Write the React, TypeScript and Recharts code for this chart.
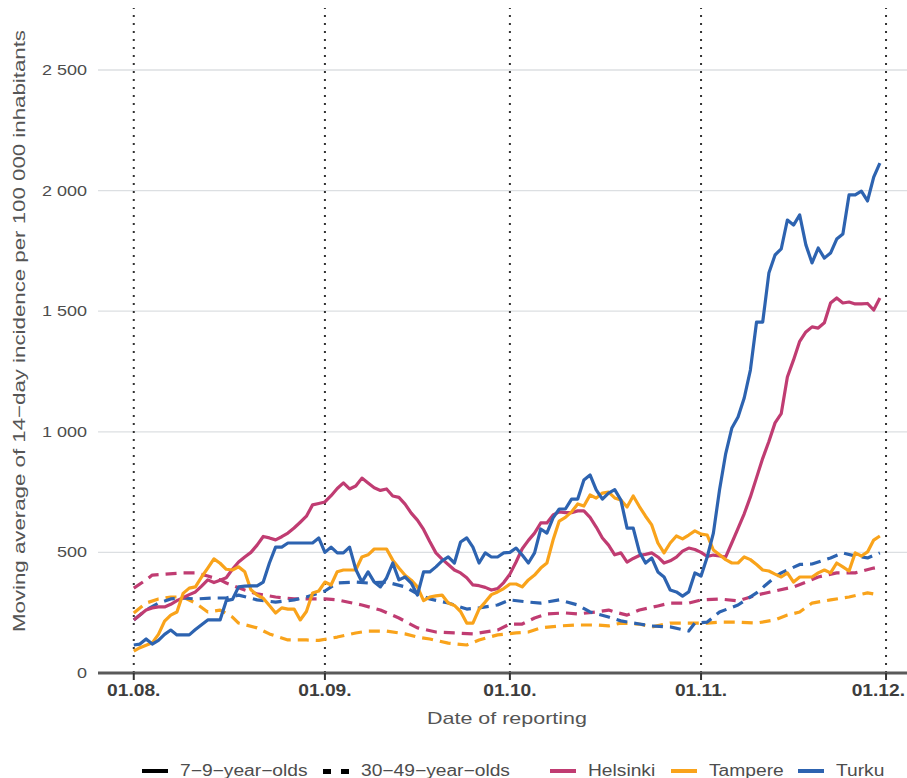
import { LineChart, Line, XAxis, YAxis, ReferenceLine, Legend, Label } from 'recharts'

const font = '"Liberation Sans", Arial, sans-serif'
// the source font runs about 1.2x wider than Arial at the same height
const stretch = 1.2

const monthTicks = [0, 31, 61, 92, 122]
const monthLabels = ['01.08.', '01.09.', '01.10.', '01.11.', '01.12.']
const yTicks = [0, 500, 1000, 1500, 2000, 2500]
const gridLines = [500, 1000, 1500, 2000, 2500]

// 7-9-year-olds, one value per day starting 1 Aug
const helsinkiKids = [
  220, 240, 261, 270, 274, 274, 285, 300, 312, 325, 336, 360, 386, 375, 385, 395, 430, 460, 481, 500,
  530, 566, 560, 552, 565, 580, 601, 625, 650, 697, 703, 709, 735, 765, 788, 763, 775, 808, 788, 768,
  757, 763, 734, 728, 700, 663, 634, 595, 545, 498, 472, 450, 427, 415, 395, 365, 362, 355, 344, 350,
  375, 410, 460, 515, 550, 580, 622, 622, 655, 668, 665, 665, 672, 672, 645, 605, 560, 530, 490, 498,
  460, 475, 487, 492, 498, 481, 456, 465, 480, 505, 518, 512, 500, 483, 489, 485, 481, 540, 600, 660,
  730, 810, 890, 960, 1037, 1075, 1227, 1298, 1375, 1414, 1435, 1430, 1452, 1534, 1555, 1534, 1538, 1530, 1530, 1532,
  1505, 1555,
]
const tampereKids = [
  91, 105, 115, 125, 160, 215, 240, 253, 330, 352, 357, 398, 435, 473, 455, 430, 427, 440, 420, 345,
  323, 310, 280, 249, 270, 265, 265, 220, 255, 332, 340, 377, 365, 420, 427, 427, 427, 481, 490, 514,
  514, 514, 468, 435, 405, 385, 357, 300, 315, 320, 323, 290, 280, 255, 207, 207, 265, 294, 325, 336,
  350, 369, 369, 357, 386, 406, 435, 456, 551, 630, 645, 668, 701, 692, 738, 725, 746, 750, 726, 717,
  688, 734, 690, 650, 614, 539, 498, 539, 568, 556, 572, 589, 576, 572, 510, 490, 470, 456, 456, 481,
  470, 450, 427, 423, 410, 398, 415, 377, 398, 398, 398, 415, 427, 415, 456, 440, 423, 498, 485, 502,
  551, 568,
]
const turkuKids = [
  116, 120, 141, 120, 135, 160, 178, 158, 158, 158, 180, 200, 220, 220, 220, 300, 305, 357, 360, 361,
  361, 377, 456, 522, 522, 539, 539, 539, 539, 539, 560, 500, 522, 498, 498, 522, 430, 377, 419, 377,
  357, 394, 456, 386, 398, 373, 323, 419, 419, 440, 465, 481, 456, 543, 560, 522, 456, 498, 481, 481,
  498, 500, 518, 489, 456, 498, 597, 580, 643, 680, 680, 721, 721, 800, 821, 759, 721, 746, 760, 717,
  601, 601, 502, 456, 477, 419, 398, 344, 336, 319, 336, 415, 402, 481, 580, 760, 910, 1016, 1061, 1140,
  1256, 1455, 1455, 1658, 1733, 1758, 1878, 1857, 1899, 1775, 1700, 1762, 1720, 1741, 1799, 1820, 1982, 1982, 1998, 1957,
  2056, 2114,
]

// 30-49-year-olds, [day, value] read at every few days (smooth lines)
const helsinkiAdults = [
  [0, 352], [2, 386], [3, 406], [5, 410], [8, 415], [10, 415], [12, 402], [14, 386], [15, 373], [18, 344],
  [20, 328], [23, 315], [26, 307], [28, 307], [31, 307], [33, 303], [37, 282], [40, 261], [43, 228], [46, 187],
  [49, 170], [52, 166], [55, 162], [59, 178], [61, 203], [63, 203], [65, 228], [67, 245], [70, 249], [72, 245],
  [75, 253], [77, 261], [78, 253], [80, 240], [82, 261], [85, 278], [87, 290], [90, 290], [92, 303], [95, 307],
  [98, 299], [101, 323], [104, 340], [107, 357], [109, 377], [111, 398], [114, 415], [117, 415], [120, 435], [121, 440],
]
const tampereAdults = [
  [0, 249], [2, 290], [4, 307], [6, 315], [8, 315], [10, 290], [12, 253], [14, 261], [16, 232], [17, 207],
  [20, 187], [22, 162], [25, 137], [28, 137], [30, 135], [33, 149], [36, 166], [38, 174], [41, 174], [44, 162],
  [46, 149], [48, 141], [51, 124], [54, 116], [56, 137], [59, 158], [62, 166], [64, 170], [66, 187], [69, 195],
  [72, 199], [75, 199], [77, 195], [79, 207], [82, 203], [84, 191], [87, 207], [90, 207], [93, 207], [95, 211],
  [98, 211], [101, 207], [104, 220], [106, 240], [108, 253], [110, 290], [113, 303], [116, 315], [119, 332], [121, 323],
]
const turkuAdults = [
  [0, 220], [2, 261], [4, 290], [6, 307], [8, 311], [10, 307], [13, 311], [15, 311], [17, 323], [20, 303],
  [23, 294], [26, 303], [28, 315], [31, 340], [33, 373], [36, 377], [38, 373], [41, 377], [44, 357], [46, 328],
  [48, 307], [51, 290], [54, 265], [56, 270], [59, 282], [61, 303], [64, 294], [66, 290], [69, 303], [72, 282],
  [74, 253], [77, 232], [79, 216], [82, 203], [84, 195], [87, 191], [90, 174], [91, 207], [93, 211], [95, 253],
  [98, 282], [101, 332], [104, 398], [105, 415], [108, 450], [110, 452], [113, 477], [115, 498], [117, 485], [119, 477],
  [121, 498],
]

const colors = { Helsinki: '#C03C72', Tampere: '#F9A31B', Turku: '#2D63B0' }

const daily = (vals: number[]) => vals.map((v, i) => ({ day: i, v }))
const points = (pts: number[][]) => pts.map(([day, v]) => ({ day, v }))

const series = [
  { name: 'Helsinki', data: points(helsinkiAdults), dash: '11 7' },
  { name: 'Tampere', data: points(tampereAdults), dash: '11 7' },
  { name: 'Turku', data: points(turkuAdults), dash: '11 7' },
  { name: 'Helsinki', data: daily(helsinkiKids), dash: undefined },
  { name: 'Tampere', data: daily(tampereKids), dash: undefined },
  { name: 'Turku', data: daily(turkuKids), dash: undefined },
]

const fmtY = (v: number) => (v >= 1000 ? `${Math.floor(v / 1000)}\u00A0${String(v % 1000).padStart(3, '0')}` : String(v))
const fmtX = (v: number) => monthLabels[monthTicks.indexOf(v)] ?? ''

function YTick(props: any) {
  const { x, y, payload } = props
  return (
    <text transform={`translate(${x},${y}) scale(${stretch},1)`} textAnchor="end" dominantBaseline="central"
      fill="#4d4d4d" fontSize={15} fontFamily={font}>
      {fmtY(payload.value)}
    </text>
  )
}

function XTick(props: any) {
  const { x, y, payload } = props
  // last label would run past the right edge, so pin it to the edge
  const last = payload.value === monthTicks[monthTicks.length - 1]
  const tx = last ? 905 : x
  return (
    <text transform={`translate(${tx},${y}) scale(${stretch},1)`} textAnchor={last ? 'end' : 'middle'} dy="0.71em"
      fill="#3d3d3d" fontSize={16} fontWeight="bold" fontFamily={font}>
      {fmtX(payload.value)}
    </text>
  )
}

function LegendItem({ left, color, dashed, text }: { left: number; color: string; dashed?: boolean; text: string }) {
  return (
    <div style={{ position: 'absolute', left, top: 0, height: 22, display: 'flex', alignItems: 'center', whiteSpace: 'nowrap' }}>
      {dashed ? (
        <div style={{ width: 26, display: 'flex', justifyContent: 'space-between' }}>
          <div style={{ width: 8, height: 5, background: color }} />
          <div style={{ width: 8, height: 5, background: color }} />
        </div>
      ) : (
        <div style={{ width: 26, height: 4, background: color }} />
      )}
      <span style={{ marginLeft: 12, display: 'inline-block', transform: `scaleX(${stretch})`, transformOrigin: 'left center' }}>
        {text}
      </span>
    </div>
  )
}

function LegendBox() {
  return (
    <div style={{ position: 'relative', height: 30, fontFamily: font, fontSize: 16, color: '#4d4d4d' }}>
      <div style={{ position: 'absolute', left: 0, top: 12, width: 907, height: 18 }}>
        <LegendItem left={142} color="#000" text="7−9−year−olds" />
        <LegendItem left={323} color="#000" dashed text="30−49−year−olds" />
        <LegendItem left={550} color={colors.Helsinki} text="Helsinki" />
        <LegendItem left={671} color={colors.Tampere} text="Tampere" />
        <LegendItem left={798} color={colors.Turku} text="Turku" />
      </div>
    </div>
  )
}

export default function App() {
  return (
    <div style={{ position: 'absolute', left: 0, top: 0, width: 907, height: 778, overflow: 'hidden', background: '#fff' }}>
      <LineChart width={907} height={778} margin={{ top: 8, right: 0, bottom: 0, left: 0 }}>
        {gridLines.map((g) => (
          <ReferenceLine key={`g${g}`} y={g} stroke="#dcdfe2" strokeWidth={1.3} />
        ))}
        {monthTicks.map((t) => (
          <ReferenceLine key={`m${t}`} x={t} stroke="#333" strokeWidth={2} strokeDasharray="2 6" />
        ))}
        <XAxis
          dataKey="day"
          type="number"
          domain={[-5.8, 125.4]}
          ticks={monthTicks}
          allowDataOverflow
          height={75}
          axisLine={{ stroke: '#5a5a5a', strokeWidth: 3 }}
          tickLine={{ stroke: '#333', strokeWidth: 2 }}
          tickSize={7}
          tickMargin={5}
          tick={<XTick />}
        >
          <Label
            content={() => (
              <text x={507} y={724} textAnchor="middle" fill="#555" fontSize={17} fontFamily={font}
                textLength={160} lengthAdjust="spacingAndGlyphs">
                Date of reporting
              </text>
            )}
          />
        </XAxis>
        <YAxis
          type="number"
          domain={[0, 2757]}
          ticks={yTicks}
          allowDataOverflow
          width={98}
          axisLine={false}
          tickLine={false}
          tickMargin={5}
          tick={<YTick />}
        >
          <Label
            content={() => (
              <text x={25} y={331} transform="rotate(-90 25 331)" textAnchor="middle" fill="#555"
                fontSize={17} fontFamily={font} textLength={602} lengthAdjust="spacingAndGlyphs">
                Moving average of 14−day incidence per 100 000 inhabitants
              </text>
            )}
          />
        </YAxis>
        <Legend verticalAlign="bottom" wrapperStyle={{ height: 30 }} content={() => <LegendBox />} />
        {series.map((s, i) => (
          <Line
            key={i}
            data={s.data}
            dataKey="v"
            type="linear"
            stroke={colors[s.name as keyof typeof colors]}
            strokeWidth={3.2}
            strokeDasharray={s.dash}
            strokeLinejoin="round"
            dot={false}
            activeDot={false}
            isAnimationActive={false}
            legendType="none"
          />
        ))}
      </LineChart>
    </div>
  )
}
